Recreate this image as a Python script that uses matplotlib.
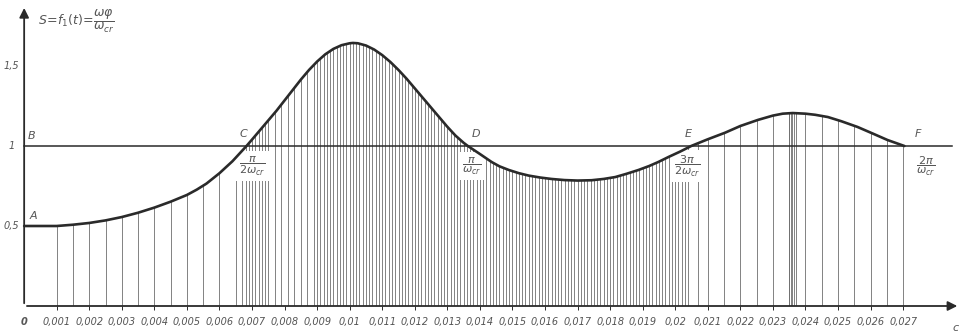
import numpy as np
import matplotlib
matplotlib.use("Agg")
import matplotlib.pyplot as plt

# S = f1(t) curve, t in milliseconds
t_ms = [0.0, 0.5, 1.0, 1.5, 2.0, 2.5, 3.0, 3.5, 4.0, 4.5, 5.0, 5.3, 5.6, 6.0,
        6.4, 6.83, 7.0, 7.25, 7.5, 7.75, 8.0, 8.25, 8.5, 8.75, 9.0, 9.25, 9.5,
        9.75, 10.0, 10.1, 10.25, 10.5, 10.75, 11.0, 11.25, 11.5, 11.75, 12.0,
        12.25, 12.5, 12.75, 13.0, 13.25, 13.5, 13.63, 14.0, 14.36, 14.6, 14.89,
        15.2, 15.5, 15.85, 16.2, 16.6, 17.0, 17.43, 17.8, 18.16, 18.5, 18.87,
        19.2, 19.48, 19.8, 20.15, 20.49, 21.0, 21.53, 22.0, 22.54, 23.0, 23.3,
        23.61, 24.0, 24.3, 24.69, 25.1, 25.6, 26.1, 26.52, 27.04]
s_val = [0.50, 0.50, 0.50, 0.508, 0.519, 0.535, 0.556, 0.583, 0.615, 0.652,
         0.694, 0.727, 0.765, 0.83, 0.905, 1.0, 1.04, 1.10, 1.16, 1.22, 1.285,
         1.35, 1.415, 1.475, 1.528, 1.573, 1.607, 1.630, 1.642, 1.644, 1.642,
         1.628, 1.603, 1.568, 1.525, 1.475, 1.42, 1.36, 1.30, 1.24, 1.18, 1.12,
         1.065, 1.02, 1.0, 0.95, 0.90, 0.873, 0.85, 0.83, 0.815, 0.803, 0.794,
         0.787, 0.784, 0.786, 0.794, 0.806, 0.826, 0.85, 0.875, 0.90, 0.932,
         0.965, 1.0, 1.042, 1.083, 1.125, 1.163, 1.19, 1.202, 1.206, 1.202,
         1.195, 1.181, 1.155, 1.119, 1.075, 1.0375, 1.0]

x_ticks = [i * 0.001 for i in range(1, 28)]
x_tick_labels = ["0,001", "0,002", "0,003", "0,004", "0,005", "0,006", "0,007",
                 "0,008", "0,009", "0,01", "0,011", "0,012", "0,013", "0,014",
                 "0,015", "0,016", "0,017", "0,018", "0,019", "0,02", "0,021",
                 "0,022", "0,023", "0,024", "0,025", "0,026", "0,027"]
y_ticks = [0.5, 1.0, 1.5]
y_tick_labels = ["0,5", "1", "1,5"]

# crossing points of S = 1
points = ["C", "D", "E", "F"]
point_t = [0.00683, 0.01363, 0.02049, 0.02704]
point_frac = [r"$\dfrac{\pi}{2\omega_{cr}}$", r"$\dfrac{\pi}{\omega_{cr}}$",
              r"$\dfrac{3\pi}{2\omega_{cr}}$", r"$\dfrac{2\pi}{\omega_{cr}}$"]

# hatch line positions (ms)
hatch_ms = np.concatenate([
    np.arange(1.0, 6.51, 0.5),
    np.arange(6.7, 7.41, 0.1),
    np.arange(7.5, 8.91, 0.2),
    np.arange(9.0, 20.41, 0.1),
    [20.7],
    np.arange(21.0, 27.01, 0.5),
    [23.5, 23.55, 23.6, 23.65, 23.7, 27.05],
])

ink = "#2a2a2a"
grey = "#555555"

fig = plt.figure(figsize=(9.63, 3.34), dpi=100)
ax = fig.add_axes([0, 0, 1, 1])
ax.set_xlim(-0.000742, 0.02884)
ax.set_ylim(-0.175, 1.9125)
ax.axis("off")

t = np.array(t_ms) / 1000.0
s = np.array(s_val)

# hatching under the curve, clipped by the area below it
area = ax.fill_between(t, 0, s, facecolor="none", edgecolor="none")
hatch = ax.vlines(hatch_ms / 1000.0, 0, 2, colors="#6e6e6e", linewidth=0.6, zorder=1)
hatch.set_clip_path(area.get_paths()[0], ax.transData)

# small ticks under the axis
ax.vlines(x_ticks, -0.025, 0, colors=ink, linewidth=0.7, zorder=2)

# axes with arrows
ax.annotate("", xy=(0.02875, 0), xytext=(0, 0),
            arrowprops=dict(arrowstyle="-|>", color=ink, lw=1.3, mutation_scale=14),
            zorder=4)
ax.annotate("", xy=(0, 1.88), xytext=(0, 0),
            arrowprops=dict(arrowstyle="-|>", color=ink, lw=1.3, mutation_scale=14),
            zorder=4)

# level S = 1
ax.plot([0, 0.0285], [1, 1], color=ink, lw=1.1, zorder=3)

# the curve A-F
ax.plot(t, s, color=ink, lw=1.9, solid_capstyle="round",
        solid_joinstyle="round", zorder=5)

tf = dict(color=grey, style="italic", fontsize=7)
for x, lab in zip(x_ticks, x_tick_labels):
    ax.text(x, -0.1, lab, ha="center", va="center", **tf)
ax.text(0, -0.1, "0", ha="center", va="center", color=grey, style="italic",
        fontsize=7, fontweight="bold")
for y, lab in zip(y_ticks, y_tick_labels):
    ax.text(-0.00038, y, lab, ha="center", va="center", **tf)
ax.text(0.02852, -0.135, "c", ha="left", va="center", color=grey,
        style="italic", fontsize=8)

ax.text(0.00043, 1.78, r"$S\!=\!f_1(t)\!=\!\dfrac{\omega\varphi}{\omega_{cr}}$",
        ha="left", va="center", color=grey, fontsize=9)

pf = dict(color=grey, style="italic", fontsize=8, ha="center", va="center")
ax.text(0.00028, 0.56, "A", **pf)
ax.text(0.00022, 1.06, "B", **pf)
name_off = [-0.00011, 0.00025, -0.0001, 0.00042]
for name, x, dx in zip(points, point_t, name_off):
    ax.text(x + dx, 1.075, name, **pf)

frac_off = [0.00018, 0.00012, -0.00012, 0.00066]
for x, lab, dx in zip(point_t, point_frac, frac_off):
    ax.text(x + dx, 0.875, lab, color=grey, fontsize=8, ha="center", va="center",
            bbox=dict(facecolor="white", edgecolor="none", pad=2.5), zorder=2)

fig.savefig("out.png", dpi=100, facecolor="white")
